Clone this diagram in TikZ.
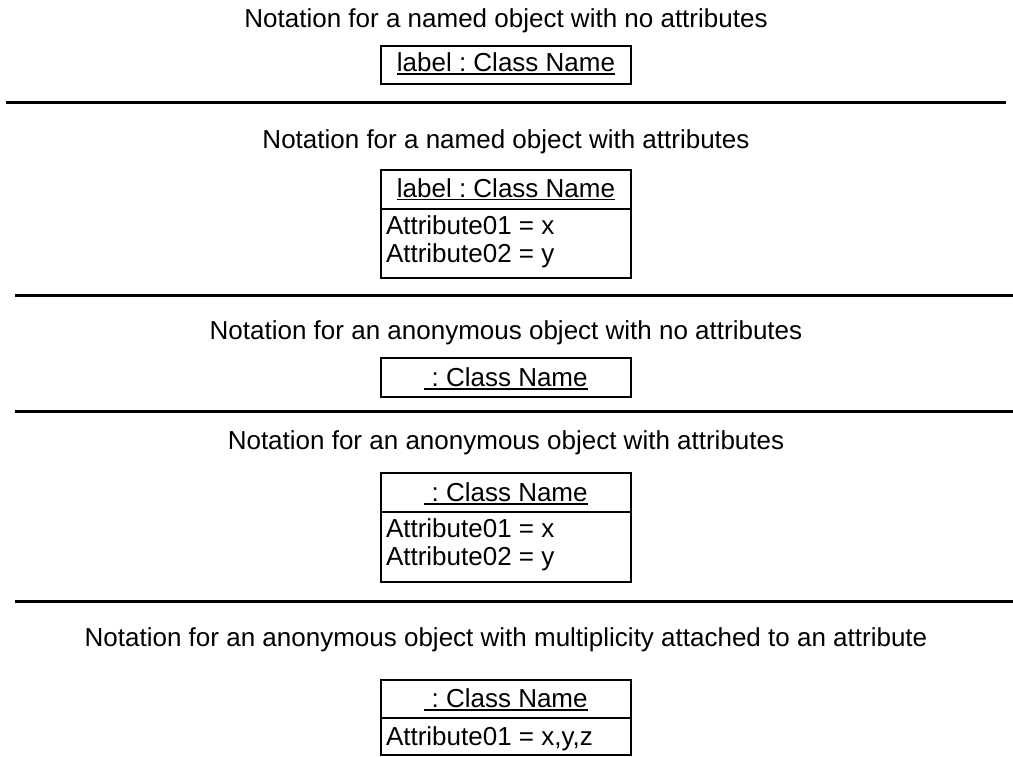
\documentclass[tikz,border=0pt]{standalone}
\usepackage{fontspec}
\setmainfont{Liberation Sans}
\frenchspacing
\begin{document}
\begin{tikzpicture}[x=1pt,y=-1pt,
  every node/.style={inner sep=0pt,outer sep=0pt,font=\fontsize{26}{31}\selectfont},
  title/.style={anchor=base},
  objname/.style={anchor=base},
  attr/.style={anchor=base west},
  objbox/.style={draw,line width=1.4pt,minimum width=250pt},
  divider/.style={line width=3pt,line cap=butt},
  uline/.style={line width=1.4pt}]
\useasboundingbox (0,0) rectangle (1013,757);

% --- named object, no attributes
\node[title] (t1) at (506,28) {Notation for a named object with no attributes};
\node[objbox,minimum height=38pt] (h1) at (506,65) {};
\node[objname] (n1) at (506,71.7) {label : Class Name};
\draw[uline] ([yshift=-2.3pt]n1.base west) -- ([yshift=-2.3pt]n1.base east);
\draw[divider] (6,103) -- (1006,103);

% --- named object with attributes
\node[title] (t2) at (506,149) {Notation for a named object with attributes};
\node[objbox,minimum height=39pt] (h2) at (506,189.5) {};
\node[objbox,minimum height=69pt] (b2) at (506,243.5) {};
\node[objname] (n2) at (506,197) {label : Class Name};
\draw[uline] ([yshift=-2.3pt]n2.base west) -- ([yshift=-2.3pt]n2.base east);
\node[attr] (a2a) at (386,235) {Attribute01 = x};
\node[attr] (a2b) at (386,262.7) {Attribute02 = y};
\draw[divider] (15,295) -- (1013,295);

% --- anonymous object, no attributes
\node[title] (t3) at (506,339) {Notation for an anonymous object with no attributes};
\node[objbox,minimum height=39pt] (h3) at (506,377.5) {};
\node[objname] (n3) at (506,386.7) {\ : Class Name};
\draw[uline] ([yshift=-2.3pt]n3.base west) -- ([yshift=-2.3pt]n3.base east);
\draw[divider] (15,411) -- (1013,411);

% --- anonymous object with attributes
\node[title] (t4) at (506,449) {Notation for an anonymous object with attributes};
\node[objbox,minimum height=39pt] (h4) at (506,492.5) {};
\node[objbox,minimum height=70pt] (b4) at (506,547) {};
\node[objname] (n4) at (506,501.7) {\ : Class Name};
\draw[uline] ([yshift=-2.3pt]n4.base west) -- ([yshift=-2.3pt]n4.base east);
\node[attr] (a4a) at (386,537) {Attribute01 = x};
\node[attr] (a4b) at (386,565) {Attribute02 = y};
\draw[divider] (15,601) -- (1013,601);

% --- anonymous object with a multi-valued attribute
\node[title] (t5) at (506,646) {Notation for an anonymous object with multiplicity attached to an attribute};
\node[objbox,minimum height=38pt] (h5) at (506,699) {};
\node[objbox,minimum height=37pt] (b5) at (506,736.5) {};
\node[objname] (n5) at (506,707.7) {\ : Class Name};
\draw[uline] ([yshift=-2.3pt]n5.base west) -- ([yshift=-2.3pt]n5.base east);
\node[attr] (a5a) at (386,745) {Attribute01 = x,y,z};
\end{tikzpicture}
\end{document}
